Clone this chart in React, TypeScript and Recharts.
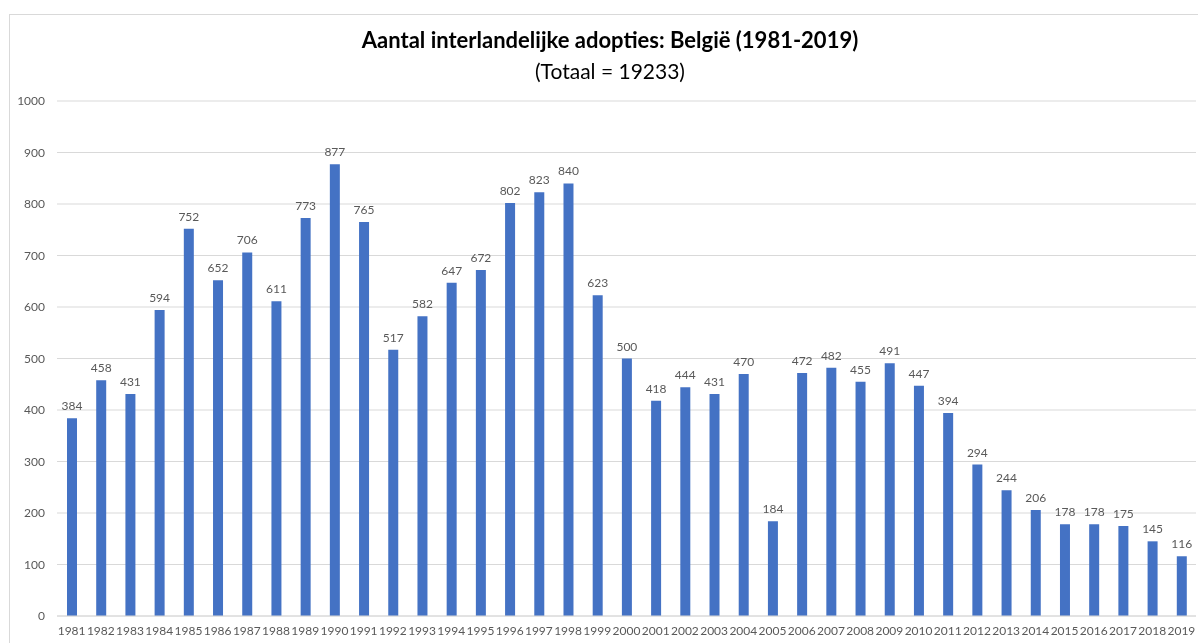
import { Bar, BarChart, CartesianGrid, LabelList, XAxis, YAxis } from "recharts";

const years = [
  "1981", "1982", "1983", "1984", "1985", "1986", "1987", "1988", "1989", "1990",
  "1991", "1992", "1993", "1994", "1995", "1996", "1997", "1998", "1999", "2000",
  "2001", "2002", "2003", "2004", "2005", "2006", "2007", "2008", "2009", "2010",
  "2011", "2012", "2013", "2014", "2015", "2016", "2017", "2018", "2019",
];

const adopties = [
  384, 458, 431, 594, 752, 652, 706, 611, 773, 877,
  765, 517, 582, 647, 672, 802, 823, 840, 623, 500,
  418, 444, 431, 470, 184, 472, 482, 455, 491, 447,
  394, 294, 244, 206, 178, 178, 175, 145, 116,
];

const yTicks = [0, 100, 200, 300, 400, 500, 600, 700, 800, 900, 1000];

const title = "Aantal interlandelijke adopties: België (1981-2019)";
const subtitle = "(Totaal = 19233)";

const data = years.map((year, i) => ({ year, value: adopties[i] }));

const font = "Lato, 'Open Sans', sans-serif";

export default function App() {
  return (
    <div
      style={{
        position: "fixed",
        left: 8,
        top: 8,
        width: 1190,
        height: 635,
        overflow: "hidden",
        fontFamily: font,
      }}
    >
      <div
        style={{
          position: "absolute",
          left: 1,
          top: 6,
          width: 1210,
          height: 700,
          border: "1px solid #d9d9d9",
          boxSizing: "border-box",
        }}
      />
      <div
        style={{
          position: "absolute",
          left: 0,
          width: 1204,
          top: 18,
          textAlign: "center",
          fontWeight: 700,
          fontSize: 22,
          color: "#000",
        }}
      >
        {title}
      </div>
      <div
        style={{
          position: "absolute",
          left: 0,
          width: 1204,
          top: 50,
          textAlign: "center",
          fontSize: 21,
          color: "#000",
        }}
      >
        {subtitle}
      </div>
      <BarChart
        width={1190}
        height={635}
        data={data}
        margin={{ top: 93, right: 2, left: 0, bottom: 0 }}
        style={{ position: "absolute", left: 0, top: 0 }}
      >
        <CartesianGrid vertical={false} stroke="#d9d9d9" />
        <XAxis
          dataKey="year"
          interval={0}
          height={27}
          tickLine={false}
          axisLine={{ stroke: "#d9d9d9" }}
          tickMargin={4}
          tick={{ fill: "#595959", fontSize: 12, fontFamily: font }}
        />
        <YAxis
          width={49}
          domain={[0, 1000]}
          ticks={yTicks}
          tickLine={false}
          axisLine={false}
          tickMargin={6}
          tick={{ fill: "#595959", fontSize: 12, fontFamily: font }}
        />
        <Bar dataKey="value" fill="#4472C4" barSize={10} isAnimationActive={false}>
          <LabelList
            dataKey="value"
            position="top"
            offset={8}
            fill="#595959"
            fontSize={12}
            fontFamily={font}
          />
        </Bar>
      </BarChart>
    </div>
  );
}
